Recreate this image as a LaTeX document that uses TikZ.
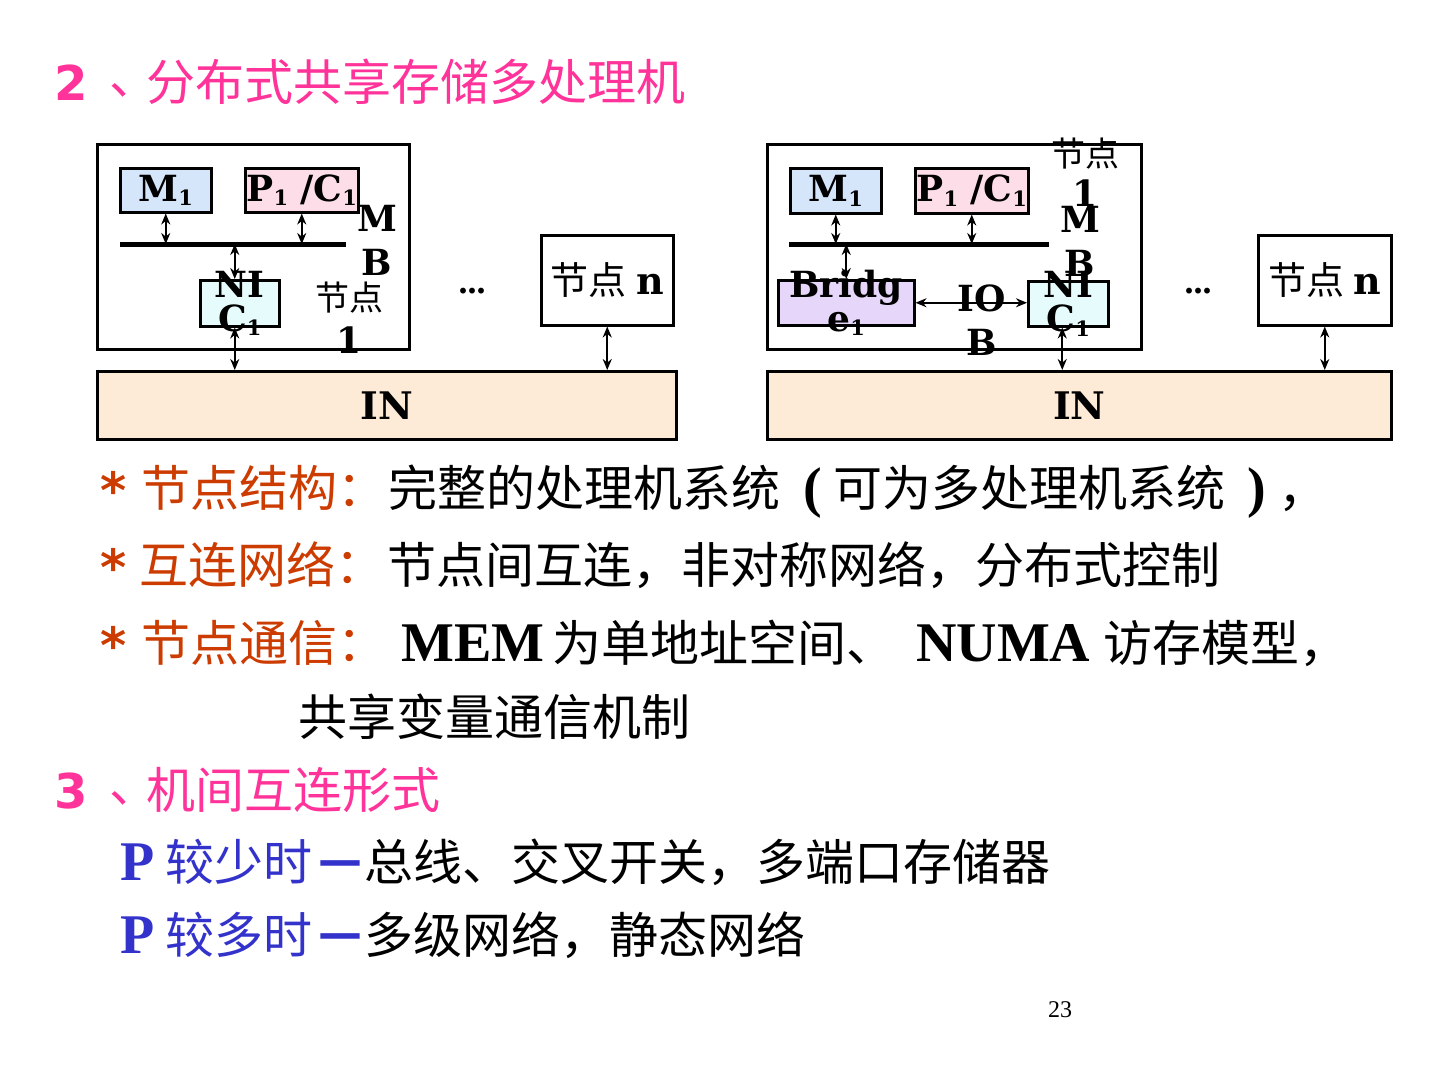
\documentclass[tikz,border=0pt]{standalone}
\usepackage{fontspec}
\setmainfont{Liberation Serif}
\newfontfamily\cjk{Noto Sans CJK SC}
\newfontfamily\dvs{DejaVu Serif}
\newfontfamily\dvsans{DejaVu Sans}
\usetikzlibrary{arrows.meta}
\definecolor{titlepink}{RGB}{255,51,153}
\definecolor{bulletred}{RGB}{204,60,0}
\definecolor{pblue}{RGB}{51,51,204}
\definecolor{mfill}{RGB}{214,230,250}
\definecolor{pfill}{RGB}{253,221,232}
\definecolor{nfill}{RGB}{230,252,252}
\definecolor{bfill}{RGB}{230,214,250}
\definecolor{infill}{RGB}{253,235,215}
\newcommand\lsub[1]{\raisebox{-0.12em}{\fontsize{21}{21}\selectfont #1}}
\newcommand\dunhao{\makebox[37pt][l]{\raisebox{6pt}{、}}}
\begin{document}
\begin{tikzpicture}[x=1pt,y=-1pt,
  box/.style={draw=black, line width=2.5pt, inner sep=0pt, anchor=north west},
  lbl/.style={font=\dvs\bfseries\fontsize{36}{34}\selectfont, inner sep=0pt, align=center},
  dbl/.style={line width=2.1pt, {Stealth[length=11pt,width=9pt]}-{Stealth[length=11pt,width=9pt]}},
  busline/.style={line width=5pt},
  txt/.style={inner sep=0pt, anchor=base west},
  cj/.style={txt, font=\cjk\fontsize{49}{58}\selectfont},
  cjt/.style={txt, font=\cjk\fontsize{49}{58}\selectfont, text=titlepink},
  star/.style={txt, font=\dvsans\bfseries\fontsize{50}{58}\selectfont, text=bulletred},
  lat/.style={txt, font=\bfseries\fontsize{56}{60}\selectfont},
  emdash/.style={txt, font=\dvsans\bfseries\fontsize{44}{50}\selectfont, text=pblue},
  dotsty/.style={inner sep=0pt, anchor=base, font=\bfseries\fontsize{36}{36}\selectfont}
]
\path[use as bounding box, fill=white] (0,0) rectangle (1440,1080);

% ---------- title ----------
\node[txt, text=titlepink, font=\dvsans\bfseries\fontsize{48}{58}\selectfont] (t2) at (54,100) {2};
\node[cjt] (t2b) at (109,100) {\dunhao 分布式共享存储多处理机};

% ---------- left diagram ----------
\node[box, minimum width=312pt, minimum height=205pt] (outer1) at (96,143) {};
\node[box, fill=mfill, minimum width=91pt, minimum height=44pt, font=\dvs\bfseries\fontsize{36}{34}\selectfont] (m1) at (119,167) {M\lsub{1}};
\node[box, fill=pfill, minimum width=113pt, minimum height=44pt, font=\dvs\bfseries\fontsize{36}{34}\selectfont] (pc1) at (244,167) {P\lsub{1} /C\lsub{1}};
\coordinate (busL1) at (120,244);
\coordinate (busR1) at (346,244);
\draw[busline] (busL1) -- (busR1);
\node[box, fill=nfill, minimum width=79pt, minimum height=46pt] (nic1) at (199,279) {};
\node[box, minimum width=132pt, minimum height=90pt, font=\fontsize{38}{40}\selectfont] (nn1) at (540,234) {{\cjk 节点} {\dvs\bfseries n}};
\node[box, fill=infill, minimum width=579pt, minimum height=68pt, font=\dvs\bfseries\fontsize{38}{40}\selectfont] (in1) at (96,370) {IN};

\draw[dbl] (m1.south) -- (m1.south |- busL1);
\draw[dbl] (pc1.south) -- (pc1.south |- busL1);
\draw[dbl] ([xshift=-5pt]nic1.north) -- ([xshift=-5pt]nic1.north |- busL1);
\draw[dbl] ([xshift=-5pt]nic1.south) -- ([xshift=-5pt]nic1.south |- in1.north);
\draw[dbl] (nn1.south) -- (nn1.south |- in1.north);

\node[lbl] (nic1t) at (nic1.center) {NI\\C\lsub{1}};
\node[lbl, font=\dvs\bfseries\fontsize{36}{44}\selectfont] (mb1) at (377,240) {M\\B};
\node[lbl, font=\fontsize{34}{43}\selectfont] (lab1) at (349,318) {{\cjk 节点}\\{\dvs\bfseries\fontsize{36}{43}\selectfont 1}};
\node[dotsty] (dots1) at (472,293) {...};

% ---------- right diagram ----------
\node[box, minimum width=374pt, minimum height=205pt] (outer2) at (766,143) {};
\node[box, fill=mfill, minimum width=91pt, minimum height=45pt, font=\dvs\bfseries\fontsize{36}{34}\selectfont] (m2) at (789,167) {M\lsub{1}};
\node[box, fill=pfill, minimum width=113pt, minimum height=45pt, font=\dvs\bfseries\fontsize{36}{34}\selectfont] (pc2) at (914,167) {P\lsub{1} /C\lsub{1}};
\coordinate (busL2) at (789,244);
\coordinate (busR2) at (1049,244);
\draw[busline] (busL2) -- (busR2);
\node[box, fill=bfill, minimum width=136pt, minimum height=45pt] (br2) at (777,279) {};
\node[box, fill=nfill, minimum width=80pt, minimum height=45pt] (nic2) at (1027,280) {};
\node[box, minimum width=133pt, minimum height=90pt, font=\fontsize{38}{40}\selectfont] (nn2) at (1257,234) {{\cjk 节点} {\dvs\bfseries n}};
\node[box, fill=infill, minimum width=624pt, minimum height=68pt, font=\dvs\bfseries\fontsize{38}{40}\selectfont] (in2) at (766,370) {IN};

\draw[dbl] (m2.south) -- (m2.south |- busL2);
\draw[dbl] (pc2.south) -- (pc2.south |- busL2);
\draw[dbl] (br2.north) -- (br2.north |- busL2);
\draw[dbl] (br2.east) -- (br2.east -| nic2.west);
\draw[dbl] ([xshift=-6pt]nic2.south) -- ([xshift=-6pt]nic2.south |- in2.north);
\draw[dbl] (nn2.south) -- (nn2.south |- in2.north);

\node[lbl] (br2t) at (br2.center) {Bridg\\e\lsub{1}};
\node[lbl] (nic2t) at (nic2.center) {NI\\C\lsub{1}};
\node[lbl, font=\dvs\bfseries\fontsize{36}{44}\selectfont] (iob) at (982,320) {IO\\B};
\node[lbl, font=\dvs\bfseries\fontsize{36}{44}\selectfont] (mb2) at (1080,241) {M\\B};
\node[lbl, font=\fontsize{34}{40}\selectfont] (lab2) at (1085,172) {{\cjk 节点}\\{\dvs\bfseries\fontsize{36}{40}\selectfont 1}};
\node[dotsty] (dots2) at (1198,293) {...};

% ---------- bullet lines ----------
\node[star] (s1) at (100,508) {*};
\node[cj, text=bulletred] (l1a) at (141,506) {节点结构：};
\node[cj] (l1b) at (388,506) {完整的处理机系统};
\node[lat] (l1c) at (803,506) {(};
\node[cj] (l1d) at (833,506) {可为多处理机系统};
\node[lat] (l1e) at (1247,506) {)};
\node[cj] (l1f) at (1278,506) {，};

\node[star] (s2) at (100,585) {*};
\node[cj, text=bulletred] (l2a) at (139,583) {互连网络：};
\node[cj] (l2b) at (387,583) {节点间互连，非对称网络，分布式控制};

\node[star] (s3) at (100,663) {*};
\node[cj, text=bulletred] (l3a) at (141,661) {节点通信：};
\node[lat] (l3b) at (401,661) {MEM};
\node[cj] (l3c) at (552,661) {为单地址空间、};
\node[lat] (l3d) at (916,661) {NUMA};
\node[cj] (l3e) at (1103,661) {访存模型，};
\node[cj] (l4) at (298,735) {共享变量通信机制};

% ---------- section 3 ----------
\node[txt, text=titlepink, font=\dvsans\bfseries\fontsize{48}{58}\selectfont] (t3) at (54,808) {3};
\node[cj, text=titlepink] (t3b) at (109,808) {\dunhao 机间互连形式};

\node[lat, text=pblue] (p1) at (120,880) {P};
\node[cj, text=pblue] (p1a) at (165,880) {较少时};
\node[emdash] (p1d) at (318,875) {—};
\node[cj] (p1b) at (364,880) {总线、交叉开关，多端口存储器};

\node[lat, text=pblue] (p2) at (120,953) {P};
\node[cj, text=pblue] (p2a) at (165,953) {较多时};
\node[emdash] (p2d) at (318,948) {—};
\node[cj] (p2b) at (364,953) {多级网络，静态网络};

\node[font=\fontsize{24}{24}\selectfont] (pg) at (1060,1010) {23};
\end{tikzpicture}
\end{document}
